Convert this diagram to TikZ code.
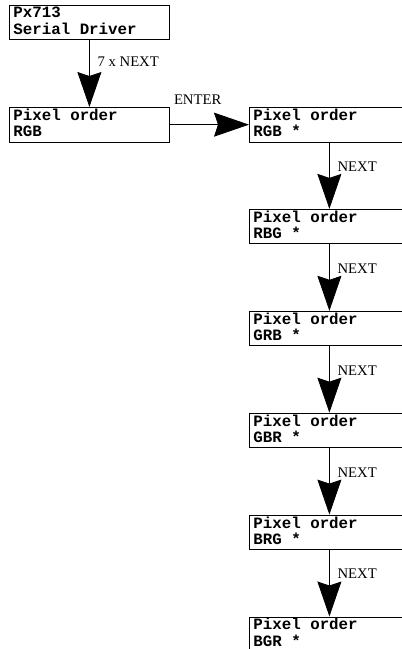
\documentclass[tikz,border=0pt]{standalone}
\usepackage{fontspec}
\setmainfont{Liberation Serif}
\setmonofont{Liberation Mono}
\usetikzlibrary{arrows.meta}
\tikzset{
  box/.style={draw=black, line width=0.8pt, rectangle, anchor=north west,
    minimum width=160pt, minimum height=34.5pt, inner xsep=4pt, inner ysep=1.5pt,
    align=left, font={\fontsize{15.8}{16.5}\selectfont\ttfamily\bfseries}},
  arr/.style={line width=0.8pt, -{Stealth[length=35pt, width=24pt, inset=4pt]}},
  lbl/.style={font={\fontsize{14.7}{16}\selectfont}, inner sep=0pt, anchor=base west}
}
\newcommand{\lineA}[1]{\makebox[152pt][l]{\rule{0pt}{11.5pt}#1}}
\newcommand{\lineB}[1]{\makebox[152pt][l]{\rule[-3.5pt]{0pt}{3.5pt}#1}}
\begin{document}
\begin{tikzpicture}[x=1pt,y=-1pt]
\clip (0,0) rectangle (402,649);
\fill[white] (0,0) rectangle (402,649);
\node[box] (b1) at (9,4.5) {\lineA{Px713}\\\lineB{Serial Driver}};
\node[box] (b2) at (9,107) {\lineA{Pixel order}\\\lineB{RGB}};
\node[box] (r1) at (249,107) {\lineA{Pixel order}\\\lineB{RGB *}};
\node[box] (r2) at (249,208.9) {\lineA{Pixel order}\\\lineB{RBG *}};
\node[box] (r3) at (249,310.8) {\lineA{Pixel order}\\\lineB{GRB *}};
\node[box] (r4) at (249,412.7) {\lineA{Pixel order}\\\lineB{GBR *}};
\node[box] (r5) at (249,514.6) {\lineA{Pixel order}\\\lineB{BRG *}};
\node[box] (r6) at (249,616.5) {\lineA{Pixel order}\\\lineB{BGR *}};
\draw[arr] (b1.south) -- (b2.north);
\node[lbl] (l1) at ([xshift=8pt,yshift=-27pt]b1.south) {7 x NEXT};
\draw[arr] (b2.east) -- (r1.west);
\node[lbl] (l2) at ([xshift=4pt,yshift=20pt]b2.east) {ENTER};
\foreach \a/\b in {r1/r2,r2/r3,r3/r4,r4/r5,r5/r6}{
  \draw[arr] (\a.south) -- (\b.north);
  \node[lbl] (n\a) at ([xshift=8pt,yshift=-29pt]\a.south) {NEXT};
}
\end{tikzpicture}
\end{document}
